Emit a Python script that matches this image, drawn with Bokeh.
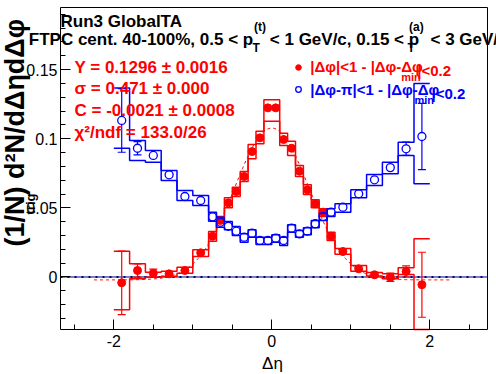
import math
from bokeh.plotting import figure
from bokeh.models import Range1d, FixedTicker, Label, Legend, LegendItem, ColumnDataSource, LinearAxis
from bokeh.embed import file_html
from bokeh.resources import INLINE

# ---------------- data ----------------
eta_edges = [-2.0, -1.8, -1.6, -1.4, -1.2, -1.0, -0.8, -0.7, -0.6, -0.5, -0.4, -0.3, -0.2, -0.1, 0.0,
             0.1, 0.2, 0.3, 0.4, 0.5, 0.6, 0.7, 0.8, 1.0, 1.2, 1.4, 1.6, 1.8, 2.0]
eta_centers = [-1.9, -1.7, -1.5, -1.3, -1.1, -0.9, -0.75, -0.65, -0.55, -0.45, -0.35, -0.25, -0.15, -0.05,
               0.05, 0.15, 0.25, 0.35, 0.45, 0.55, 0.65, 0.75, 0.9, 1.1, 1.3, 1.5, 1.7, 1.9]

near_y = [-0.0042, 0.0047, 0.0027, 0.0023, 0.0047, 0.0175, 0.0295, 0.0409, 0.0536, 0.0618, 0.0727, 0.0907,
          0.1006, 0.1223, 0.1223, 0.0994, 0.0931, 0.0765, 0.0630, 0.0529, 0.0469, 0.0295, 0.0184, 0.0059,
          0.0016, -0.0001, 0.0040, -0.0056]
near_stat = [0.0230, 0.0048, 0.0030, 0.0012, 0.0015, 0.0015, 0.0015, 0.0015, 0.0015, 0.0015, 0.0015, 0.0015,
             0.0015, 0.0015, 0.0015, 0.0015, 0.0015, 0.0015, 0.0015, 0.0015, 0.0015, 0.0015, 0.0015, 0.0015,
             0.0012, 0.0030, 0.0040, 0.0235]
near_sys_hi = [0.0186, 0.0095, 0.0035, 0.0042, 0.0071, 0.0197, 0.0329, 0.0437, 0.0573, 0.0649, 0.0763, 0.0958,
               0.1054, 0.1281, 0.1281, 0.1040, 0.0982, 0.0806, 0.0667, 0.0558, 0.0493, 0.0324, 0.0206, 0.0084,
               0.0033, 0.0023, 0.0067, 0.0276]
near_sys_lo = [-0.0237, -0.0013, -0.0001, 0.0006, 0.0027, 0.0148, 0.0259, 0.0389, 0.0500, 0.0582, 0.0690, 0.0855,
               0.0963, 0.1127, 0.1127, 0.0951, 0.0879, 0.0727, 0.0597, 0.0500, 0.0437, 0.0264, 0.0165, 0.0041,
               0.0008, -0.0012, 0.0018, -0.0380]

away_y = [0.1132, 0.0931, 0.0879, 0.0739, 0.0582, 0.0553, 0.0435, 0.0396, 0.0367, 0.0331, 0.0288, 0.0317,
          0.0264, 0.0264, 0.0281, 0.0264, 0.0353, 0.0312, 0.0331, 0.0385, 0.0437, 0.0469, 0.0505, 0.0602,
          0.0703, 0.0791, 0.0927, 0.1016]
away_stat = [0.0230, 0.0048, 0.0020, 0.0015, 0.0015, 0.0015, 0.0015, 0.0015, 0.0015, 0.0015, 0.0015, 0.0015,
             0.0015, 0.0015, 0.0015, 0.0015, 0.0015, 0.0015, 0.0015, 0.0015, 0.0015, 0.0015, 0.0015, 0.0015,
             0.0015, 0.0020, 0.0048, 0.0240]
away_sys_hi = [0.1367, 0.0987, 0.0915, 0.0770, 0.0625, 0.0589, 0.0469, 0.0432, 0.0401, 0.0365, 0.0312, 0.0341,
               0.0288, 0.0288, 0.0305, 0.0288, 0.0377, 0.0336, 0.0356, 0.0409, 0.0461, 0.0493, 0.0529, 0.0630,
               0.0741, 0.0830, 0.0975, 0.1400]
away_sys_lo = [0.0931, 0.0842, 0.0830, 0.0698, 0.0553, 0.0517, 0.0403, 0.0360, 0.0341, 0.0300, 0.0252, 0.0288,
               0.0235, 0.0235, 0.0252, 0.0228, 0.0324, 0.0288, 0.0305, 0.0356, 0.0409, 0.0437, 0.0469, 0.0573,
               0.0662, 0.0746, 0.0879, 0.0674]

fit_Y = 0.1296
fit_sigma = 0.471
fit_C = -0.0021
fit_xmin, fit_xmax = -2.25, 2.28

x_major = [-2, 0, 2]
x_tick_labels = ["-2", "0", "2"]
x_minor = [-2.5, -1.5, -1.0, -0.5, 0.5, 1.0, 1.5, 2.5]
y_major = [0.0, 0.05, 0.1, 0.15]
y_tick_labels = ["0", "0.05", "0.1", "0.15"]
y_minor = [-0.03, -0.02, -0.01, 0.01, 0.02, 0.03, 0.04, 0.06, 0.07, 0.08, 0.09, 0.11, 0.12, 0.13, 0.14,
           0.16, 0.17, 0.18, 0.19]

# axis (frame) extent of the ROOT pad
frame_x = (-2.6747, 2.7304)
frame_y = (-0.03796, 0.19487)

RED = "#ff0000"
BLUE = "#0000ff"
FONT = "Liberation Sans"

# ---------------- figure ----------------
# The plotting region covers the whole canvas; the axes are pinned at the pad frame edges.
p = figure(width=496, height=374, output_backend="svg", toolbar_location=None,
           x_range=Range1d(-3.4342, 2.8443), y_range=Range1d(-0.07050, 0.19993),
           min_border_left=0, min_border_right=0, min_border_top=0, min_border_bottom=0)
p.background_fill_color = "white"
p.border_fill_color = "white"
p.outline_line_color = None
p.xgrid.visible = False
p.ygrid.visible = False

xa = p.xaxis[0]
ya = p.yaxis[0]
xa.fixed_location = frame_y[0]
xa.bounds = frame_x
ya.fixed_location = frame_x[0]
ya.bounds = frame_y
xa.ticker = FixedTicker(ticks=x_major, minor_ticks=x_minor)
ya.ticker = FixedTicker(ticks=y_major, minor_ticks=y_minor)
xa.major_label_overrides = {float(t): s for t, s in zip(x_major, x_tick_labels)}
ya.major_label_overrides = {float(t): s for t, s in zip(y_major, y_tick_labels)}
for ax in (xa, ya):
    ax.major_tick_in = 10
    ax.major_tick_out = 0
    ax.minor_tick_in = 5
    ax.minor_tick_out = 0
    ax.axis_line_color = "black"
    ax.major_tick_line_color = "black"
    ax.minor_tick_line_color = "black"
    ax.major_label_text_font = FONT
    ax.major_label_text_font_size = "16px"
    ax.major_label_text_color = "black"
xa.major_label_standoff = 6
ya.major_label_standoff = 3

# top and right frame edges
top_ax = LinearAxis(fixed_location=frame_y[1], bounds=frame_x, ticker=FixedTicker(ticks=[]),
                    major_label_text_font_size="0px", major_tick_line_color=None, minor_tick_line_color=None)
right_ax = LinearAxis(fixed_location=frame_x[1], bounds=frame_y, ticker=FixedTicker(ticks=[]),
                      major_label_text_font_size="0px", major_tick_line_color=None, minor_tick_line_color=None)
p.add_layout(top_ax, "above")
p.add_layout(right_ax, "right")

# zero line
p.line(x=list(frame_x), y=[0, 0], line_color="#000080", line_width=1)
p.line(x=list(frame_x), y=[0, 0], line_color="#000080", line_width=2, line_dash="2 5")

# fit curve (Gaussian + constant with the fitted parameters)
nfit = 300
fx = [fit_xmin + (fit_xmax - fit_xmin) * i / (nfit - 1) for i in range(nfit)]
fy = [fit_C + fit_Y / (math.sqrt(2 * math.pi) * fit_sigma) * math.exp(-x * x / (2 * fit_sigma ** 2)) for x in fx]
p.line(fx, fy, line_color=RED, line_width=1, line_dash="3 3")

r_marker = 0.0027


def draw_series(yv, stat, shi, slo, color, filled):
    # systematic envelopes (histogram outline without outer verticals)
    p.step(x=eta_edges, y=shi + [shi[-1]], mode="after", line_color=color, line_width=1.5)
    p.step(x=eta_edges, y=slo + [slo[-1]], mode="after", line_color=color, line_width=1.5)
    # statistical error bars (outside of the marker)
    gap = 0.0 if filled else r_marker
    x0, y0, x1, y1, cx, cy = [], [], [], [], [], []
    for x, y, e in zip(eta_centers, yv, stat):
        if e > r_marker:
            x0 += [x, x]
            y0 += [y + gap, y - e]
            x1 += [x, x]
            y1 += [y + e, y - gap]
            cx += [x, x]
            cy += [y + e, y - e]
    p.segment(x0=x0, y0=y0, x1=x1, y1=y1, line_color=color, line_width=1.2)
    p.scatter(cx, cy, marker="dash", size=8, line_color=color, line_width=1.2)
    src = ColumnDataSource(dict(x=eta_centers, y=yv))
    if filled:
        r = p.scatter("x", "y", source=src, marker="circle", size=8, fill_color=color, line_color=color)
    else:
        r = p.scatter("x", "y", source=src, marker="circle", size=8, fill_alpha=0, line_color=color,
                      line_width=1.3)
    return r


r_near = draw_series(near_y, near_stat, near_sys_hi, near_sys_lo, RED, True)
r_away = draw_series(away_y, away_stat, away_sys_hi, away_sys_lo, BLUE, False)


# ---------------- annotations (canvas pixel positions) ----------------
def txt(s, px, py, size, color="black", bold=True, angle=0.0, align="left"):
    p.add_layout(Label(x=px, y=py, x_units="canvas", y_units="canvas", text=s, text_font=FONT,
                       text_font_size=f"{size}px", text_font_style="bold" if bold else "normal",
                       text_color=color, text_align=align, text_baseline="alphabetic", angle=angle))


# title
txt("Run3 GlobalTA", 60, 20.7, 17)
txt("FTPC cent. 40-100%, 0.5 < p", 28.3, 39, 17)
txt("T", 252, 47.5, 12)
txt("(t)", 253.5, 26, 12)
txt("< 1 GeV/c, 0.15 < p", 269.3, 39, 17)
txt("T", 407, 47.5, 12)
txt("(a)", 408.5, 26, 12)
txt("< 3 GeV/c", 430, 39, 17)

# fit results
txt("Y = 0.1296 ± 0.0016", 74, 66.5, 17, RED)
txt("σ = 0.471 ± 0.000", 74, 87.5, 17, RED)
txt("C = -0.0021 ± 0.0008", 74, 109.5, 17, RED)
txt("χ²/ndf = 133.0/26", 74, 131.5, 17, RED)

# axis titles
txt("Δη", 272, 363, 17, bold=False, align="center")
rot = math.pi / 2
txt("(1/N", 14, 246, 27, angle=rot)
txt("trig", 30, 214, 13, angle=rot)
txt(") d²N/dΔηdΔφ", 14, 195, 27, angle=rot)

# legends
for rend, lab, color, row_py in ((r_near, "|Δφ|<1 - |Δφ-Δφ", RED, 66.7),
                                 (r_away, "|Δφ-π|<1 - |Δφ-Δφ", BLUE, 89.3)):
    leg = Legend(items=[LegendItem(label=lab, renderers=[rend])],
                 location=(298.3 - 7, 374 - (row_py + 10)),
                 glyph_width=14, glyph_height=20, label_height=20, label_standoff=5,
                 padding=0, spacing=0, margin=0, border_line_alpha=0, background_fill_alpha=0,
                 label_text_font=FONT, label_text_font_size="15px", label_text_font_style="bold",
                 label_text_color=color, label_text_baseline="middle")
    p.add_layout(leg)

txt("min", 400.7, 76.7, 11, RED)
txt("|<0.2", 416.7, 70, 15, RED)
txt("min", 414, 99.5, 11, BLUE)
txt("|<0.2", 431, 92.5, 15, BLUE)

open("out.html", "w").write(file_html(p, INLINE))
